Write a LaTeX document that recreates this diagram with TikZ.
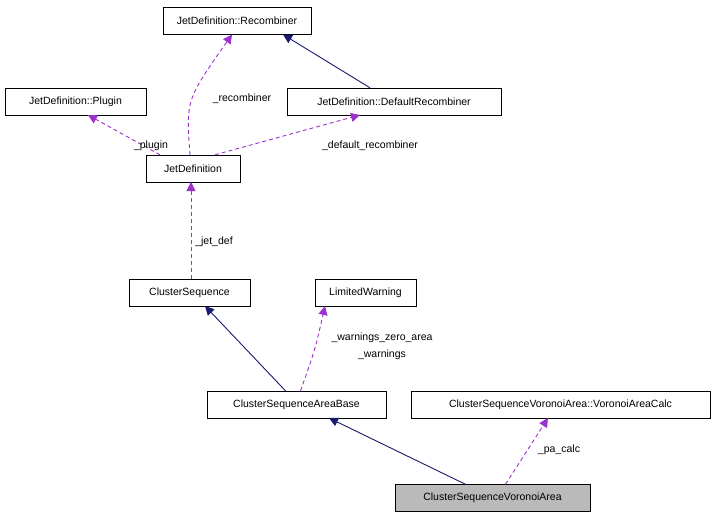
\documentclass[tikz,border=0pt]{standalone}
\usepackage{fontspec}
\setmainfont{Liberation Sans}
\usetikzlibrary{arrows.meta}
\definecolor{purp}{HTML}{9A32CD}
\definecolor{navy}{HTML}{191970}
\begin{document}
\begin{tikzpicture}[x=1pt,y=-1pt,
 box/.style={draw,fill=white,minimum height=27pt,inner sep=0pt,font=\fontsize{10.5}{12}\selectfont},
 inh/.style={draw=navy,line width=0.9pt,-{Triangle[length=9pt,width=9pt,fill=navy]}},
 use/.style={draw=purp,line width=0.9pt,dash pattern=on 4pt off 3pt,-{Triangle[length=9pt,width=9pt,fill=purp]}},
 lab/.style={font=\fontsize{10.5}{12}\selectfont}]
\useasboundingbox (0,0) rectangle (715,520);
\node[box,minimum width=148pt] (rec) at (237,21) {JetDefinition::Recombiner};
\node[box,minimum width=141pt] (plug) at (75.5,101.5) {JetDefinition::Plugin};
\node[box,minimum width=214pt] (drec) at (394,101.5) {JetDefinition::DefaultRecombiner};
\node[box,minimum width=94pt] (jd) at (193,168.5) {JetDefinition};
\node[box,minimum width=121pt] (cs) at (189.5,292.5) {ClusterSequence};
\node[box,minimum width=101pt] (lw) at (365.5,292.5) {LimitedWarning};
\node[box,minimum width=179pt] (csab) at (296.5,404.5) {ClusterSequenceAreaBase};
\node[box,minimum width=299pt] (vac) at (560.5,404.5) {ClusterSequenceVoronoiArea::VoronoiAreaCalc};
\node[box,minimum width=195pt,fill=black!27] (cva) at (492.5,498) {ClusterSequenceVoronoiArea};
\draw[inh] (drec.north) ++(-24,0) -- (283,34.5);
\draw[use] (jd.north) ++(-3,0) .. controls (186,100) .. (232,34.5);
\node[lab] at (242,99) {\_recombiner};
\draw[use] (jd.north) ++(-33,0) -- (88,115);
\node[lab] at (151,146) {\_plugin};
\draw[use] (jd.north) ++(22,0) -- (360,115);
\node[lab] at (370,146) {\_default\_recombiner};
\draw[use] (cs.north) ++(1.5,0) -- (191,182);
\node[lab] at (214,242) {\_jet\_def};
\draw[inh] (csab.north) ++(-11,0) -- (205,306);
\draw[use] (csab.north) ++(4,0) .. controls (315,350) .. (325,306);
\node[lab] at (382,338) {\_warnings\_zero\_area};
\node[lab] at (382,355) {\_warnings};
\draw[inh] (cva.north) ++(-27,0) -- (329,418);
\draw[use] (cva.north) ++(13,0) -- (548,418);
\node[lab] at (559,450) {\_pa\_calc};
\end{tikzpicture}
\end{document}
